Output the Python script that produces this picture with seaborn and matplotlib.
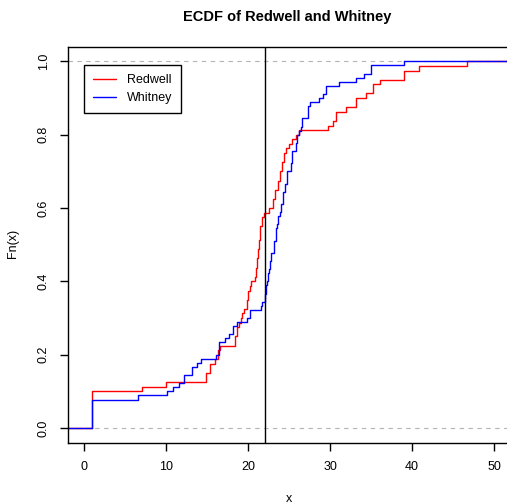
import numpy as np
import pandas as pd
import matplotlib
matplotlib.use("Agg")
from matplotlib import pyplot as plt
from matplotlib.lines import Line2D
import seaborn as sns

redwell_vals = [1, 7, 10, 14.9, 15.4, 16.0, 16.3, 16.6, 18.4, 18.6, 18.9, 19.1, 19.3,
                19.5, 19.8, 20.0, 20.2, 20.4, 20.85, 20.97, 21.1, 21.25, 21.37, 21.5,
                21.66, 21.9, 22.5, 23.0, 23.3, 23.6, 23.9, 24.1, 24.4, 24.6, 25.0, 25.4,
                25.8, 26.2, 29.7, 30.3, 30.7, 32.0, 33.2, 34.4, 35.2, 36.1, 39.0, 40.8, 46.7]
redwell_counts = [8, 1, 1, 2, 2, 1, 2, 1, 2, 2, 1, 1, 1,
                  1, 2, 2, 1, 1, 1, 2, 2, 2, 2, 3,
                  2, 1, 1, 2, 2, 2, 2, 2, 2, 1, 1, 1,
                  1, 1, 1, 1, 2, 1, 2, 1, 2, 1, 2, 1, 1]

whitney_vals = [1, 6.6, 10.1, 10.8, 11.6, 12.2, 13.2, 13.75, 14.2, 16.1, 16.4, 17.2, 17.7,
                18.2, 18.7, 19.8, 20.2, 21.6, 21.7, 22.0, 22.2, 22.3, 22.4, 22.5, 22.7,
                22.8, 23.1, 23.2, 23.4, 23.5, 23.7, 23.9, 24.0, 24.2, 24.3, 24.5, 24.8,
                25.2, 25.4, 25.8, 26.0, 26.2, 26.4, 26.6, 27.3, 27.5, 28.7, 29.1, 29.5,
                31.1, 33.1, 34.1, 35.0, 39.0]
whitney_counts = [7, 1, 1, 1, 1, 2, 2, 1, 1, 1, 3, 1, 1,
                  2, 1, 1, 2, 1, 1, 2, 2, 1, 2, 1, 2,
                  2, 1, 2, 3, 1, 2, 1, 2, 2, 1, 2, 3,
                  2, 3, 2, 2, 1, 1, 2, 3, 1, 1, 1, 2,
                  1, 1, 1, 2, 1]

cut_x = 22
x_ticks = [0, 10, 20, 30, 40, 50]
y_ticks = [0.0, 0.2, 0.4, 0.6, 0.8, 1.0]
y_tick_labels = ["0.0", "0.2", "0.4", "0.6", "0.8", "1.0"]
groups = ["Redwell", "Whitney"]
colors = {"Redwell": "#FF0000", "Whitney": "#0000FF"}

redwell = np.repeat(redwell_vals, redwell_counts)
whitney = np.repeat(whitney_vals, whitney_counts)
df = pd.DataFrame({
    "x": np.concatenate([redwell, whitney]),
    "group": ["Redwell"] * len(redwell) + ["Whitney"] * len(whitney),
})

sns.set_style("ticks")
plt.rcParams["font.family"] = ["Liberation Sans", "DejaVu Sans"]
plt.rcParams["text.color"] = "black"
plt.rcParams["axes.labelcolor"] = "black"
plt.rcParams["xtick.color"] = "black"
plt.rcParams["ytick.color"] = "black"

W, H = 507, 504
fig = plt.figure(figsize=(W / 100, H / 100), dpi=100)
left, right, top, bottom = 68, 510, 46.7, 442.7
ax = fig.add_axes([left / W, 1 - bottom / H, (right - left) / W, (bottom - top) / H])

xlim = (-1.98, 51.95)
ylim = (-0.04, 1.04)

# dashed reference lines at 0 and 1 (R style)
ax.axhline(0, color="#B3B3B3", lw=0.8, ls=(0, (4, 4)), zorder=1)
ax.axhline(1, color="#B3B3B3", lw=0.8, ls=(0, (4, 4)), zorder=1)

for g in groups:
    data = df.loc[df["group"] == g, "x"]
    sns.ecdfplot(x=data, color=colors[g], linewidth=1, ax=ax, zorder=2)
    # the flat tails to the plot edges
    ax.plot([xlim[0] - 1, data.min()], [0, 0], color=colors[g], lw=1, zorder=2)
    ax.plot([data.max(), xlim[1] + 1], [1, 1], color=colors[g], lw=1, zorder=2)

ax.axvline(cut_x, color="black", lw=1, zorder=3)

ax.set_xlim(*xlim)
ax.set_ylim(*ylim)
ax.set_xticks(x_ticks)
ax.set_xticklabels([str(t) for t in x_ticks], fontsize=9, color="black")
ax.set_yticks(y_ticks)
ax.set_yticklabels(y_tick_labels, fontsize=9, rotation=90, va="center", color="black")
ax.tick_params(direction="out", length=6, width=1, pad=7, colors="black")
for s in ax.spines.values():
    s.set_visible(True)
    s.set_linewidth(1)
    s.set_color("black")
ax.set_xlabel("")
ax.set_ylabel("")

fig.text(289 / W, 1 - 499 / H, "x", fontsize=9, ha="center", va="center", color="black")
fig.text(13 / W, 1 - 243 / H, "Fn(x)", fontsize=9, ha="center", va="center",
         rotation=90, color="black")
fig.text(287 / W, 1 - 17 / H, "ECDF of Redwell and Whitney", fontsize=10.5,
         fontweight="bold", ha="center", va="center", color="black")

handles = [Line2D([0], [0], color=colors[g], lw=1) for g in groups]
leg = ax.legend(handles, groups, loc="upper left",
                bbox_to_anchor=((84 - left) / (right - left), 1 - (65 - top) / (bottom - top)),
                fontsize=9, frameon=True, fancybox=False, framealpha=1, edgecolor="black",
                handlelength=1.8, handletextpad=0.85, borderpad=0.75, labelspacing=0.45,
                borderaxespad=0)
leg.get_frame().set_linewidth(1)
for t in leg.get_texts():
    t.set_color("black")

fig.savefig("out.png", dpi=100)
